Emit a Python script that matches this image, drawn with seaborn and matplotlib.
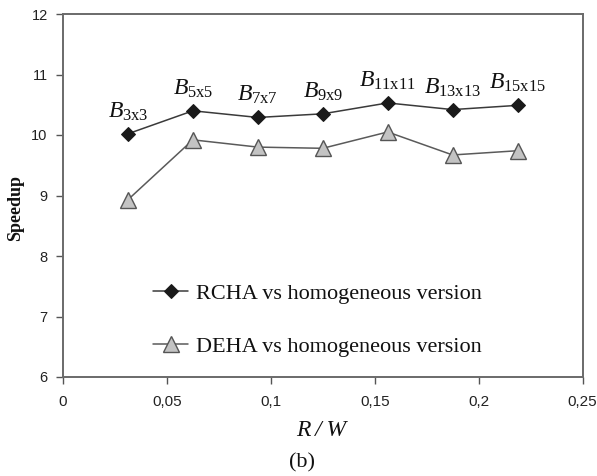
import matplotlib
matplotlib.use("Agg")
import matplotlib.pyplot as plt
import seaborn as sns
import pandas as pd

# ---- data ----
rw = [0.03125, 0.0625, 0.09375, 0.125, 0.15625, 0.1875, 0.21875]
rcha = [10.02, 10.40, 10.29, 10.35, 10.53, 10.42, 10.49]
deha = [8.93, 9.92, 9.80, 9.78, 10.05, 9.67, 9.74]
block_labels = [r"$B_{\mathregular{3x3}}$", r"$B_{\mathregular{5x5}}$", r"$B_{\mathregular{7x7}}$",
                r"$B_{\mathregular{9x9}}$", r"$B_{\mathregular{11x11}}$", r"$B_{\mathregular{13x13}}$",
                r"$B_{\mathregular{15x15}}$"]
series_names = ["RCHA vs homogeneous version", "DEHA vs homogeneous version"]
x_ticks = [0, 0.05, 0.1, 0.15, 0.2, 0.25]
x_tick_labels = ["0", "0,05", "0,1", "0,15", "0,2", "0,25"]
y_ticks = [6, 7, 8, 9, 10, 11, 12]

sns.set_style("white")
plt.rcParams["mathtext.fontset"] = "custom"
plt.rcParams["mathtext.rm"] = "Liberation Serif"
plt.rcParams["mathtext.it"] = "Liberation Serif:italic"
plt.rcParams["mathtext.bf"] = "Liberation Serif:bold"
plt.rcParams["font.family"] = ["Liberation Serif", "DejaVu Serif"]

df1 = pd.DataFrame({"rw": rw, "speedup": rcha})
df2 = pd.DataFrame({"rw": rw, "speedup": deha})

fig = plt.figure(figsize=(5.97, 4.76), dpi=100)
ax = fig.add_axes([63 / 597, 99 / 476, 519.5 / 597, 363 / 476])

sns.lineplot(data=df1, x="rw", y="speedup", ax=ax, color="#3a3a3a", linewidth=1.1,
             marker="D", markersize=7, markerfacecolor="#1a1a1a", markeredgecolor="#1a1a1a",
             label=series_names[0])
sns.lineplot(data=df2, x="rw", y="speedup", ax=ax, color="#5a5a5a", linewidth=1.1,
             marker="^", markersize=11, markerfacecolor="#c3c3c3", markeredgecolor="#555555",
             markeredgewidth=1.0, label=series_names[1])

for xv, yv, lab in zip(rw, rcha, block_labels):
    ax.annotate(lab, (xv, yv), xytext=(0, 11), textcoords="offset pixels",
                ha="center", va="bottom", fontsize=17, color="#111111")

ax.set_xlim(0, 0.25)
ax.set_ylim(6, 12)
ax.set_xticks(x_ticks, x_tick_labels)
ax.set_yticks(y_ticks, [str(v) for v in y_ticks])
for lab in ax.get_xticklabels():
    lab.set_fontfamily("Liberation Sans")
    lab.set_fontsize(11)
for lab in ax.get_yticklabels():
    lab.set_fontfamily("Liberation Sans")
    lab.set_fontsize(10.5)
ax.tick_params(axis="x", direction="out", length=5, width=1, color="#555555",
               pad=8, labelcolor="#222222", bottom=True, top=False)
ax.tick_params(axis="y", direction="out", length=5, width=1, color="#555555",
               pad=6, labelcolor="#222222", left=True, right=False)

for sp in ax.spines.values():
    sp.set_color("#6a6a6a")
    sp.set_linewidth(1.4)
    sp.set_visible(True)

ax.set_xlabel("")
ax.set_ylabel("Speedup", fontsize=13, fontweight="bold", color="#111111")
ax.yaxis.set_label_coords(-0.074, 0.466)

leg = ax.legend(loc="center left", bbox_to_anchor=(0.173, 0.157), frameon=False,
                borderpad=0, borderaxespad=0, handlelength=1.6, handletextpad=0.35,
                labelspacing=1.45, prop={"family": "Liberation Serif", "size": 16})
for t in leg.get_texts():
    t.set_color("#111111")

fig.text(321 / 597, 1 - 430 / 476, "R\u2009/\u2009W", ha="center", va="center", fontsize=17,
         style="italic", color="#111111")
fig.text(302 / 597, 1 - 463 / 476, "(b)", ha="center", va="center", fontsize=16,
         color="#111111")

fig.savefig("out.png", dpi=100)
